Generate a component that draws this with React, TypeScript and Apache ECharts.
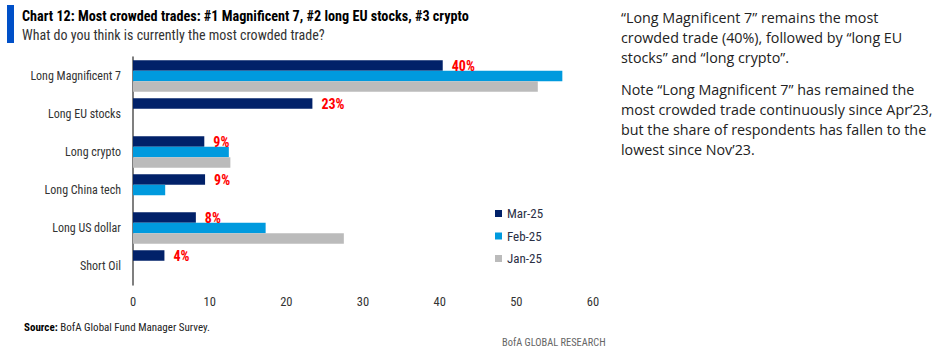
import React, { useEffect, useRef } from "react";
import * as echarts from "echarts";

const categories = ["Long Magnificent 7", "Long EU stocks", "Long crypto", "Long China tech", "Long US dollar", "Short Oil"];
const mar25 = [40.4, 23.4, 9.3, 9.4, 8.2, 4.1];
const feb25 = [56.0, null, 12.5, 4.2, 17.3, null];
const jan25 = [52.8, null, 12.7, null, 27.5, null];
const seriesNames = ["Mar-25", "Feb-25", "Jan-25"];
const xTicks = [0, 10, 20, 30, 40, 50, 60];

const NARROW = "'Liberation Sans Narrow', 'Roboto Condensed', Roboto, sans-serif";

export default function App() {
  const ref = useRef<HTMLDivElement>(null);
  useEffect(() => {
    if (!ref.current) return;
    const chart = echarts.init(ref.current, undefined, { renderer: "svg" });
    const colors = ["#012169", "#009ADE", "#BBBBBB"];
    const datas = [mar25, feb25, jan25];
    const series = datas.map((d, i) => ({
      type: "bar",
      name: seriesNames[i],
      data: d,
      barWidth: 10.5,
      barGap: "0%",
      itemStyle: { color: colors[i] },
      label: i === 0 ? {
        show: true,
        position: "right",
        distance: 9,
        color: "#FF0000",
        fontWeight: "bold",
        fontSize: 14,
        fontFamily: NARROW,
        formatter: (p: any) => Math.round(p.value) + "%",
      } : { show: false },
    }));
    chart.setOption({
      animation: false,
      grid: { left: 133, right: 350, top: 57, height: 228 },
      xAxis: {
        type: "value",
        min: xTicks[0],
        max: xTicks[xTicks.length - 1],
        interval: 10,
        axisLine: { show: false },
        axisTick: { show: false },
        splitLine: { show: false },
        axisLabel: { color: "#333", fontSize: 12.5, fontFamily: NARROW, margin: 10 },
      },
      yAxis: {
        type: "category",
        data: categories,
        inverse: true,
        axisLine: { show: true, lineStyle: { color: "#555", width: 1.5 } },
        axisTick: { show: false },
        axisLabel: { color: "#333", fontSize: 12, fontFamily: NARROW, margin: 12 },
      },
      legend: {
        orient: "vertical",
        left: 490,
        top: 201,
        itemWidth: 7,
        itemHeight: 7,
        itemGap: 7.5,
        icon: "rect",
        data: seriesNames,
        textStyle: { color: "#2a2f45", fontSize: 13, fontFamily: NARROW, lineHeight: 15 },
      },
      series,
      graphic: [
        { type: "rect", shape: { x: 7, y: 5, width: 7, height: 38 }, style: { fill: "#0050C8" } },
        { type: "text", x: 22, y: 9, style: { text: "Chart 12: Most crowded trades: #1 Magnificent 7, #2 long EU stocks, #3 crypto", fontSize: 14.2, fontWeight: "bold", fontFamily: NARROW, fill: "#000" } },
        { type: "text", x: 22, y: 28, style: { text: "What do you think is currently the most crowded trade?", fontSize: 14, fontFamily: NARROW, fill: "#333" } },
        { type: "text", x: 621, y: 7, style: { text: "\u201CLong Magnificent 7\u201D remains the most\ncrowded trade (40%), followed by \u201Clong EU\nstocks\u201D and \u201Clong crypto\u201D.", fontSize: 14.3, lineHeight: 20, fontFamily: "'Open Sans', sans-serif", fill: "#222" } },
        { type: "text", x: 621, y: 79, style: { text: "Note \u201CLong Magnificent 7\u201D has remained the\nmost crowded trade continuously since Apr\u201923,\nbut the share of respondents has fallen to the\nlowest since Nov\u201923.", fontSize: 14.3, lineHeight: 20, fontFamily: "'Open Sans', sans-serif", fill: "#222" } },
        { type: "text", x: 24, y: 322, style: { text: "{b|Source:} BofA Global Fund Manager Survey.", fontSize: 11, fontFamily: NARROW, fill: "#222", rich: { b: { fontWeight: "bold", fontSize: 11, fontFamily: NARROW, fill: "#000" } } } },
        { type: "text", x: 502, y: 337, style: { text: "BofA GLOBAL RESEARCH", fontSize: 10.4, fontFamily: NARROW, fill: "#666" } },
      ],
    });
    return () => chart.dispose();
  }, []);
  return <div ref={ref} style={{ position: "fixed", left: 0, top: 0, width: 943, height: 359, background: "#fff" }} />;
}
